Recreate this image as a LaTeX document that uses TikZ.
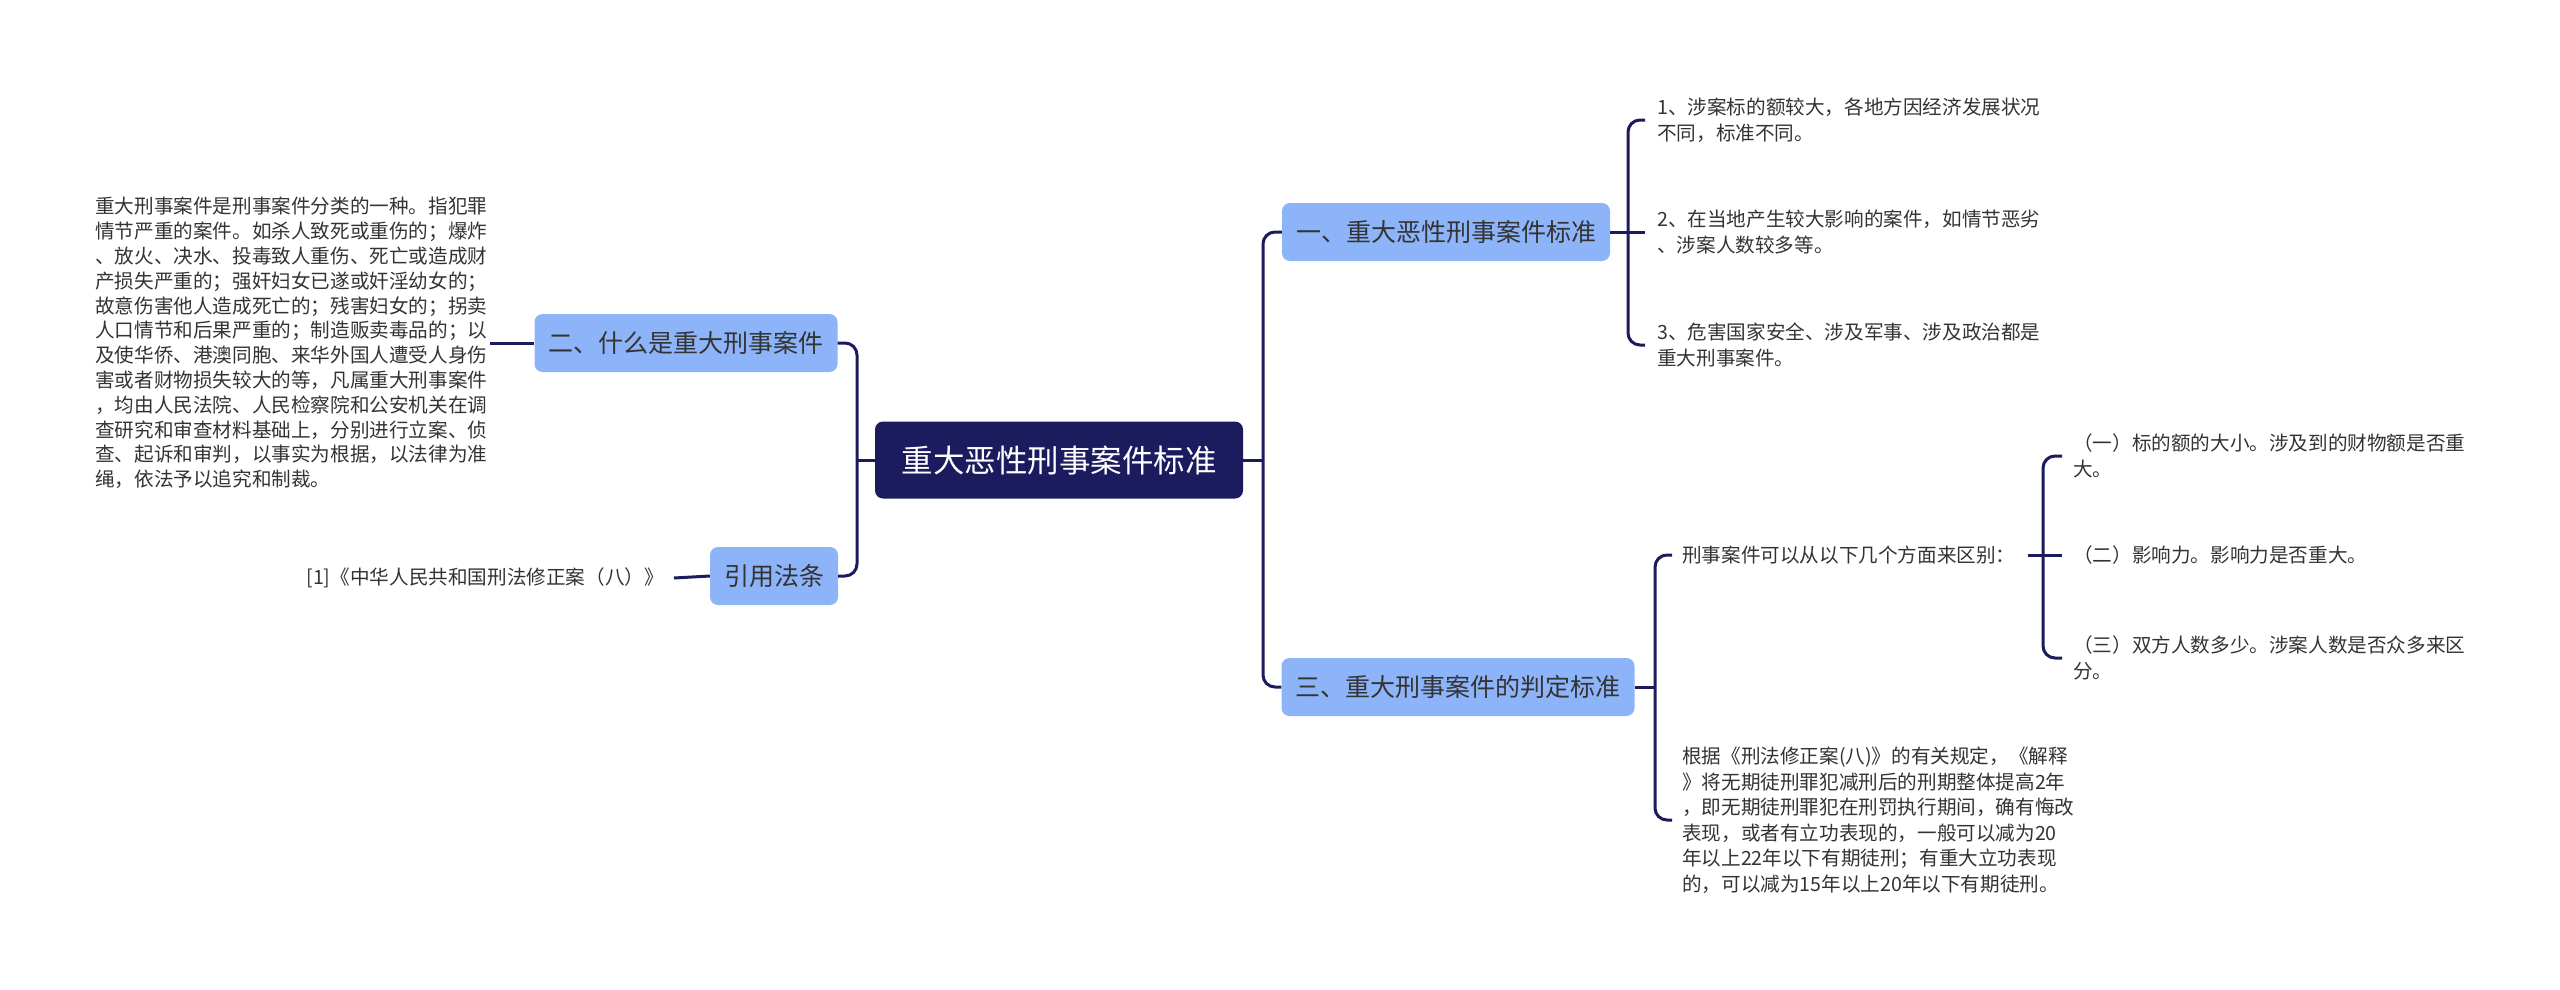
\documentclass[tikz,border=0pt]{standalone}
\usepackage{fontspec}
\setmainfont{Noto Sans CJK SC}
\definecolor{mapnavy}{HTML}{1B1B5E}
\definecolor{mapblue}{HTML}{8DB4F8}
\definecolor{mapink}{HTML}{333333}

\begin{document}
\begin{tikzpicture}[
    x = 1pt, y = -1pt,
    line join = round,
    link/.style = {line width = 3pt, draw = mapnavy},
    rootbox/.style = {fill = mapnavy, text = white, rounded corners = 8pt, minimum width = 368pt, minimum height = 77pt, font = \fontsize{31.5}{36}\selectfont},
    branchbox/.style = {fill = mapblue, text = mapink, rounded corners = 8pt, inner xsep = 14pt, minimum height = 58pt, font = \fontsize{25}{30}\selectfont},
    leaf/.style = {text = mapink, inner sep = 0pt, align = left, font = \fontsize{19.6}{25.5}\selectfont}
]

\useasboundingbox (0, 0) rectangle (2560, 989);

\node[rootbox] (root) at (1059, 460) {重大恶性刑事案件标准};

\node[branchbox] (b1) at (1446, 232) {一、重大恶性刑事案件标准};
\node[branchbox] (b2) at (686, 343) {二、什么是重大刑事案件};
\node[branchbox] (b3) at (1458, 687) {三、重大刑事案件的判定标准};
\node[branchbox] (b4) at (774, 576) {引用法条};

\node[leaf, anchor = west, font = \fontsize{19.6}{24.8}\selectfont] (t2) at (95, 343) {重大刑事案件是刑事案件分类的一种。指犯罪\\情节严重的案件。如杀人致死或重伤的；爆炸\\、放火、决水、投毒致人重伤、死亡或造成财\\产损失严重的；强奸妇女已遂或奸淫幼女的；\\故意伤害他人造成死亡的；残害妇女的；拐卖\\人口情节和后果严重的；制造贩卖毒品的；以\\及使华侨、港澳同胞、来华外国人遭受人身伤\\害或者财物损失较大的等，凡属重大刑事案件\\，均由人民法院、人民检察院和公安机关在调\\查研究和审查材料基础上，分别进行立案、侦\\查、起诉和审判，以事实为根据，以法律为准\\绳，依法予以追究和制裁。};
\node[leaf, anchor = east] (cite) at (664, 578) {[1]《中华人民共和国刑法修正案（八）》};

\node[leaf, anchor = west] (l1) at (1657, 120) {1、涉案标的额较大，各地方因经济发展状况\\不同，标准不同。};
\node[leaf, anchor = west] (l2) at (1657, 232) {2、在当地产生较大影响的案件，如情节恶劣\\、涉案人数较多等。};
\node[leaf, anchor = west] (l3) at (1657, 345) {3、危害国家安全、涉及军事、涉及政治都是\\重大刑事案件。};

\node[leaf, anchor = west] (m1) at (1682, 555) {刑事案件可以从以下几个方面来区别：};
\node[leaf, anchor = west] (m2) at (1682, 820) {根据《刑法修正案(八)》的有关规定，《解释\\》将无期徒刑罪犯减刑后的刑期整体提高2年\\，即无期徒刑罪犯在刑罚执行期间，确有悔改\\表现，或者有立功表现的，一般可以减为20\\年以上22年以下有期徒刑；有重大立功表现\\的，可以减为15年以上20年以下有期徒刑。};

\node[leaf, anchor = west] (n1) at (2073, 456) {（一）标的额的大小。涉及到的财物额是否重\\大。};
\node[leaf, anchor = west] (n2) at (2073, 555) {（二）影响力。影响力是否重大。};
\node[leaf, anchor = west] (n3) at (2073, 658) {（三）双方人数多少。涉案人数是否众多来区\\分。};

\coordinate (kl) at (857, 460);
\coordinate (kr) at (1263, 460);
\coordinate (k1) at (1628, 232);
\coordinate (k3) at (1655, 687);
\coordinate (k4) at (2043, 555);

\draw[link] (root.west) -- (kl);
\draw[link, rounded corners = 12pt] (b2.east) -| (kl) |- (b4.east);
\draw[link] (root.east) -- (kr);
\draw[link, rounded corners = 12pt] (b1.west) -| (kr) |- (b3.west);

\draw[link] ([xshift = 3pt]t2.east) -- (b2.west);
\draw[link] ([xshift = 10pt]cite.east) -- (b4.west);

\draw[link] (b1.east) -- ([xshift = -12pt]l2.west);
\draw[link, rounded corners = 12pt] ([xshift = -12pt]l1.west) -| (k1) |- ([xshift = -12pt]l3.west);

\draw[link] (b3.east) -- (k3);
\draw[link, rounded corners = 12pt] ([xshift = -10pt]m1.west) -| (k3) |- ([xshift = -10pt]m2.west);

\draw[link] ([xshift = 12pt]m1.east) -- ([xshift = -11pt]n2.west);
\draw[link, rounded corners = 12pt] ([xshift = -11pt]n1.west) -| (k4) |- ([xshift = -11pt]n3.west);

\end{tikzpicture}
\end{document}
